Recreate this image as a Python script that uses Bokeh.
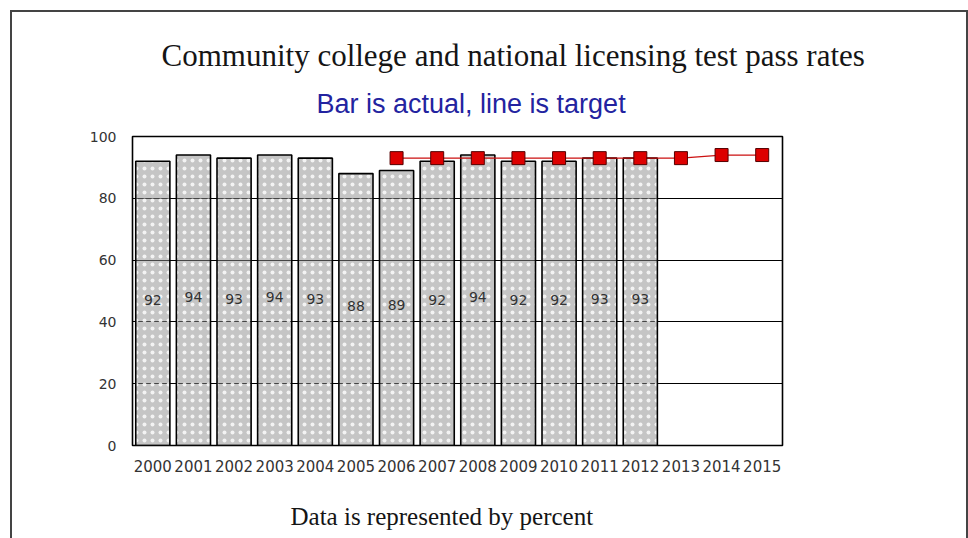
from bokeh.plotting import figure
from bokeh.layouts import column
from bokeh.models import Range1d, FixedTicker, ColumnDataSource, LabelSet, Title
from bokeh.core.properties import value
from bokeh.embed import file_html
from bokeh.resources import INLINE

years = ["2000", "2001", "2002", "2003", "2004", "2005", "2006", "2007",
         "2008", "2009", "2010", "2011", "2012", "2013", "2014", "2015"]
actual = [92, 94, 93, 94, 93, 88, 89, 92, 94, 92, 92, 93, 93]
target_years = ["2006", "2007", "2008", "2009", "2010", "2011", "2012", "2013", "2014", "2015"]
target = [93, 93, 93, 93, 93, 93, 93, 93, 94, 94]
y_ticks = [0, 20, 40, 60, 80, 100]

title_text = "Community college and national licensing test pass rates"
subtitle_text = "Bar is actual, line is target"
note_text = "Data is represented by percent"

xpos = {y: i for i, y in enumerate(years)}
bar_x = [xpos[y] for y in years[:len(actual)]]
tgt_x = [xpos[y] for y in target_years]

p = figure(width=954, height=526, output_backend="svg", toolbar_location=None,
           x_range=Range1d(-0.5, len(years) - 0.5), y_range=Range1d(0, 100),
           min_border_left=120, min_border_right=184, min_border_top=124,
           min_border_bottom=93, background_fill_color="white",
           border_fill_color="white")

p.outline_line_color = "black"
p.outline_line_width = 1.6

p.xgrid.visible = False
p.ygrid.ticker = FixedTicker(ticks=y_ticks)
p.ygrid.grid_line_color = "black"
p.ygrid.grid_line_width = 1.2

p.yaxis.ticker = FixedTicker(ticks=y_ticks)
p.xaxis.ticker = FixedTicker(ticks=list(range(len(years))))
p.xaxis.major_label_overrides = {i: y for i, y in enumerate(years)}
for ax in (p.xaxis, p.yaxis):
    ax.axis_line_color = None
    ax.major_tick_line_color = None
    ax.minor_tick_line_color = None
    ax.major_label_text_font = "DejaVu Sans"
    ax.major_label_text_color = "#333333"
    ax.major_label_text_font_size = "14px"
p.xaxis.major_label_text_font_size = "15px"
p.yaxis.major_label_standoff = 10
p.xaxis.major_label_standoff = 8

src = ColumnDataSource(dict(x=bar_x, top=actual, lab=[str(v) for v in actual],
                            ly=[v / 2 + 1 for v in actual]))
p.vbar(x="x", top="top", bottom=0, width=0.84, source=src,
       fill_color="#8c8c8c", fill_alpha=0.5, line_color="black", line_width=1.6,
       hatch_pattern="dot", hatch_color="white", hatch_scale=8, hatch_weight=3.5,
       hatch_alpha=0.8)

p.add_layout(LabelSet(x="x", y="ly", text="lab", source=src, text_align="center",
                      text_baseline="middle", text_font=value("DejaVu Sans"),
                      text_font_size="14px", text_color="#333333"))

p.line(tgt_x, target, line_color="#cc1111", line_width=1.2)
p.scatter(tgt_x, target, marker="square", size=13, fill_color="#dd0000",
          line_color="#550000", line_width=1)

# main title: the figure's own title (outermost panel above)
p.title.text = title_text
p.title.align = "left"
p.title.offset = 29
p.title.vertical_align = "bottom"
p.title.standoff = 0
p.title.text_font = "Liberation Serif"
p.title.text_font_size = "31px"
p.title.text_font_style = "normal"
p.title.text_color = "#151515"

# subtitle: closest to the frame
p.add_layout(Title(text=subtitle_text, align="left", offset=184, vertical_align="top",
                   standoff=32.4, text_font="Liberation Sans", text_font_size="27px",
                   text_font_style="normal", text_color="#2323a0"), "above")

# spacer between the x axis and the note
p.add_layout(Title(text=" ", text_font_size="1px", standoff=24.5), "below")
p.add_layout(Title(text=note_text, align="left", offset=158, vertical_align="top",
                   standoff=0, text_font="Liberation Serif", text_font_size="25px",
                   text_font_style="normal", text_color="#151515"), "below")

layout = column(p, spacing=0,
                styles={"border-left": "2px solid #444", "border-top": "2px solid #444",
                        "border-right": "2px solid #444",
                        "margin-left": "10px", "margin-top": "10px"})

open("out.html", "w").write(file_html(layout, INLINE))
